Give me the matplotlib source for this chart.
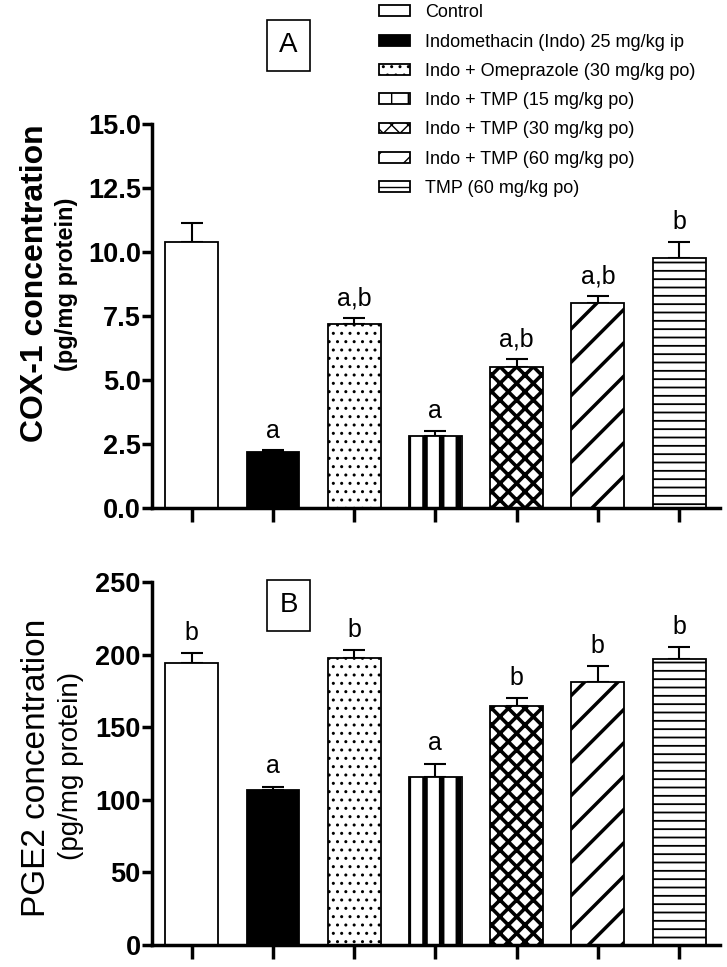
import numpy as np
import matplotlib
matplotlib.use("Agg")
from matplotlib import pyplot as plt
from matplotlib.patches import Patch

plt.rcParams['font.family'] = ['Liberation Sans', 'DejaVu Sans']
plt.rcParams['hatch.color'] = 'black'

# Data
groups = ["Control",
          "Indomethacin (Indo) 25 mg/kg ip",
          "Indo + Omeprazole (30 mg/kg po)",
          "Indo + TMP (15 mg/kg po)",
          "Indo + TMP (30 mg/kg po)",
          "Indo + TMP (60 mg/kg po)",
          "TMP (60 mg/kg po)"]

cox1_mean = [10.4, 2.2, 7.2, 2.8, 5.5, 8.0, 9.75]
cox1_sem = [0.75, 0.05, 0.22, 0.2, 0.33, 0.27, 0.65]
cox1_sig = ["", "a", "a,b", "a", "a,b", "a,b", "b"]

pge2_mean = [194, 107, 198, 116, 165, 181, 197]
pge2_sem = [7, 2, 5, 9, 5, 11, 8]
pge2_sig = ["b", "a", "b", "a", "b", "b", "b"]

# styling per group: (facecolor, hatch, hatch linewidth)
styles = [("white", "", 1.0),
          ("black", "", 1.0),
          ("white", "..", 1.0),
          ("white", "|", 4.0),
          ("white", "xx", 2.6),
          ("white", "/", 2.5),
          ("white", "--", 1.3)]

fig = plt.figure(figsize=(7.27, 9.67), dpi=100)
ax_a = fig.add_axes([0.209, 0.4747, 0.781, 0.3971])
ax_b = fig.add_axes([0.209, 0.0227, 0.781, 0.3753])

X = np.arange(len(groups))


def draw_panel(ax, means, sems, sigs, ymax, ystep, fmt, off):
    for i in X:
        fc, hatch, hlw = styles[i]
        with plt.rc_context({'hatch.linewidth': hlw}):
            ax.bar(X[i], means[i], width=0.65, color=fc, edgecolor='black',
                   linewidth=1.3, hatch=hatch, zorder=2)
        ax.errorbar(X[i], means[i], yerr=[[0], [sems[i]]], fmt='none',
                    ecolor='black', elinewidth=1.5, capsize=8, capthick=1.5, zorder=1)
        if sigs[i]:
            ax.text(X[i], means[i] + sems[i] + off, sigs[i], ha='center',
                    va='bottom', fontsize=18)
    ax.set_xlim(-0.49, 6.5)
    ax.set_ylim(0, ymax)
    ticks = np.arange(0, ymax + ystep / 2, ystep)
    ax.set_yticks(ticks)
    ax.set_yticklabels([fmt.format(v) for v in ticks], fontsize=19.5, fontweight='bold')
    ax.set_xticks(X)
    ax.set_xticklabels([])
    ax.tick_params(axis='both', direction='out', width=2.5, length=7, pad=1)
    ax.tick_params(axis='x', length=10)
    for s in ['top', 'right']:
        ax.spines[s].set_visible(False)
    for s in ['left', 'bottom']:
        ax.spines[s].set_linewidth(2.5)


draw_panel(ax_a, cox1_mean, cox1_sem, cox1_sig, 15.0, 2.5, "{:.1f}", 0.3)
draw_panel(ax_b, pge2_mean, pge2_sem, pge2_sig, 250, 50, "{:.0f}", 6)

# y labels (two lines, different sizes)
fig.text(0.048, 0.707, "COX-1 concentration", rotation=90, ha='center', va='center',
         fontsize=23, fontweight='bold')
fig.text(0.091, 0.706, "(pg/mg protein)", rotation=90, ha='center', va='center',
         fontsize=17, fontweight='bold')
fig.text(0.050, 0.206, "PGE2 concentration", rotation=90, ha='center', va='center',
         fontsize=24)
fig.text(0.097, 0.208, "(pg/mg protein)", rotation=90, ha='center', va='center',
         fontsize=20)

# panel letters
box = dict(boxstyle='square,pad=0.45', facecolor='white', edgecolor='black', linewidth=1.2)
fig.text(0.397, 0.953, "A", ha='center', va='center', fontsize=20, bbox=box)
fig.text(0.397, 0.374, "B", ha='center', va='center', fontsize=20, bbox=box)

# legend
handles = []
for i, g in enumerate(groups):
    fc, hatch, hlw = styles[i]
    handles.append(Patch(facecolor=fc, edgecolor='black', hatch=hatch, linewidth=1.3, label=g))
fig.legend(handles=handles, loc='upper left', bbox_to_anchor=(0.512, 1.003),
           frameon=False, fontsize=13, handlelength=1.7, handleheight=0.55,
           handletextpad=0.85, labelspacing=0.68, borderaxespad=0)

fig.savefig("out.png", dpi=100)
